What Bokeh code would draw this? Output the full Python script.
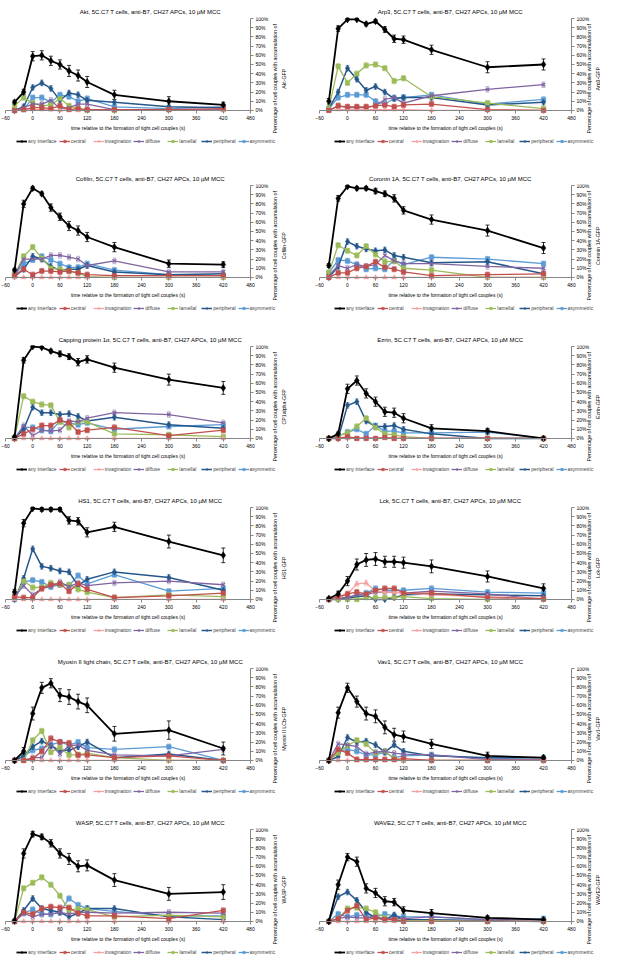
import math
from bokeh.plotting import figure
from bokeh.models import (ColumnDataSource, Whisker, TeeHead, Legend, LegendItem,
                          FixedTicker, PrintfTickFormatter, Range1d, Spacer)
from bokeh.core.properties import value
from bokeh.layouts import column, row
from bokeh.embed import file_html
from bokeh.resources import INLINE

# ---------------- data ----------------
TIME = [-40, -20, 0, 20, 40, 60, 80, 100, 120, 180, 300, 420]
XTICKS = [-60, 0, 60, 120, 180, 240, 300, 360, 420, 480]
YTICKS = [0, 10, 20, 30, 40, 50, 60, 70, 80, 90, 100]
SERIES = ["any interface", "central", "invagination", "diffuse", "lamellal", "peripheral", "asymmetric"]

# order of rows in each protein table: any, central, invagination, diffuse, lamellal, peripheral, asymmetric
AKT = [
    [9, 20, 59, 60, 54, 50, 43, 38, 31, 17, 10, 6],
    [0, 1, 3, 3, 2, 5, 1, 2, 1, 1, 1, 2],
    [0, 0, 1, 1, 1, 0, 1, 0, 0, 0, 0, 0],
    [0, 3, 7, 7, 11, 2, 3, 7, 7, 1, 1, 1],
    [5, 14, 8, 5, 6, 13, 5, 2, 0, 0, 1, 1],
    [0, 4, 25, 30, 24, 11, 19, 17, 11, 9, 4, 3],
    [0, 1, 14, 14, 9, 17, 15, 10, 13, 4, 2, 4],
]
AKT_ERR = [2, 3, 5, 5, 5, 5, 6, 6, 6, 5, 5, 3]

ARP3 = [
    [10, 89, 99, 99, 94, 97, 88, 78, 77, 66, 47, 50],
    [0, 5, 4, 4, 4, 5, 6, 4, 6, 7, 1, 0],
    [0, 1, 1, 1, 1, 1, 1, 1, 1, 0, 0, 0],
    [0, 5, 3, 3, 3, 5, 12, 14, 8, 16, 23, 28],
    [2, 48, 30, 40, 49, 50, 46, 32, 35, 15, 8, 2],
    [2, 20, 46, 34, 22, 26, 20, 13, 14, 14, 6, 9],
    [2, 14, 17, 17, 17, 10, 7, 13, 14, 17, 7, 12],
]
ARP3_ERR = [3, 3, 1, 1, 2, 2, 3, 4, 4, 5, 6, 6]

COFILIN = [
    [8, 80, 97, 91, 76, 66, 56, 51, 44, 33, 15, 14],
    [2, 9, 3, 7, 7, 6, 7, 5, 3, 2, 2, 2],
    [0, 0, 0, 0, 0, 0, 0, 0, 0, 0, 0, 0],
    [2, 20, 20, 20, 24, 24, 22, 20, 13, 18, 6, 6],
    [3, 23, 33, 21, 10, 9, 7, 5, 1, 0, 0, 0],
    [1, 9, 23, 20, 12, 8, 9, 9, 13, 6, 3, 4],
    [2, 15, 19, 23, 19, 15, 11, 11, 15, 8, 3, 2],
]
COFILIN_ERR = [2, 4, 2, 2, 4, 4, 5, 5, 5, 5, 4, 3]

CORONIN = [
    [13, 86, 99, 97, 97, 94, 91, 86, 73, 63, 51, 32],
    [0, 5, 5, 10, 12, 17, 11, 9, 6, 2, 3, 4],
    [0, 0, 0, 0, 0, 0, 0, 0, 0, 0, 0, 0],
    [2, 13, 10, 14, 12, 14, 24, 18, 15, 15, 12, 10],
    [5, 35, 29, 24, 34, 25, 17, 18, 10, 8, 0, 0],
    [0, 12, 39, 34, 31, 29, 30, 24, 22, 16, 17, 4],
    [5, 19, 18, 14, 9, 10, 9, 19, 14, 22, 20, 15],
]
CORONIN_ERR = [2, 3, 1, 2, 2, 3, 3, 4, 4, 5, 6, 6]

CAPPING = [
    [2, 85, 100, 99, 95, 92, 89, 83, 86, 77, 64, 55],
    [0, 5, 10, 14, 14, 20, 17, 7, 9, 12, 3, 9],
    [0, 0, 0, 0, 0, 0, 0, 0, 0, 0, 0, 0],
    [0, 14, 3, 9, 8, 9, 19, 18, 22, 28, 26, 17],
    [0, 46, 40, 37, 36, 18, 12, 18, 18, 5, 4, 2],
    [0, 10, 34, 28, 28, 26, 27, 24, 19, 23, 15, 11],
    [0, 12, 12, 9, 8, 19, 17, 15, 17, 10, 13, 15],
]
CAPPING_ERR = [1, 3, 1, 1, 2, 3, 3, 4, 4, 5, 6, 7]

EZRIN = [
    [0, 5, 54, 63, 49, 40, 29, 28, 22, 11, 8, 0],
    [0, 0, 2, 0, 0, 0, 1, 0, 0, 0, 0, 0],
    [0, 0, 0, 0, 0, 0, 1, 0, 0, 0, 0, 0],
    [0, 0, 1, 0, 1, 0, 1, 0, 0, 0, 0, 0],
    [0, 3, 6, 13, 22, 12, 5, 4, 2, 0, 0, 0],
    [0, 0, 36, 40, 19, 13, 13, 14, 10, 5, 0, 0],
    [0, 2, 7, 10, 5, 14, 8, 8, 6, 6, 7, 0],
]
EZRIN_ERR = [0, 2, 5, 5, 5, 5, 5, 5, 5, 4, 3, 0]

HS1 = [
    [8, 83, 99, 98, 98, 98, 86, 85, 73, 79, 63, 48],
    [3, 2, 2, 12, 16, 17, 9, 17, 11, 2, 4, 7],
    [0, 0, 0, 0, 0, 0, 0, 0, 0, 0, 0, 0],
    [3, 15, 5, 12, 14, 19, 14, 18, 15, 18, 20, 16],
    [2, 20, 13, 13, 18, 16, 16, 11, 8, 2, 5, 3],
    [0, 23, 55, 36, 34, 31, 30, 15, 22, 30, 24, 10],
    [0, 19, 21, 19, 14, 16, 15, 26, 17, 27, 9, 12],
]
HS1_ERR = [3, 4, 1, 2, 2, 2, 4, 4, 5, 5, 7, 8]

LCK = [
    [1, 6, 20, 38, 43, 44, 41, 41, 40, 36, 25, 12],
    [0, 3, 6, 8, 6, 10, 12, 12, 7, 7, 2, 1],
    [0, 1, 6, 17, 18, 9, 8, 8, 7, 5, 3, 1],
    [0, 2, 2, 5, 5, 8, 8, 8, 7, 9, 6, 0],
    [0, 0, 0, 0, 2, 2, 2, 2, 3, 1, 0, 0],
    [0, 0, 1, 3, 4, 0, 0, 2, 5, 6, 5, 4],
    [0, 1, 2, 5, 7, 12, 10, 10, 10, 12, 8, 7],
]
LCK_ERR = [1, 3, 5, 6, 7, 7, 6, 6, 6, 7, 6, 5]

MYOSIN = [
    [0, 10, 51, 79, 84, 71, 69, 64, 60, 29, 33, 13],
    [0, 0, 2, 10, 24, 20, 19, 6, 6, 3, 5, 0],
    [0, 0, 0, 0, 0, 0, 0, 0, 0, 0, 0, 0],
    [0, 0, 3, 3, 17, 7, 16, 17, 11, 6, 5, 12],
    [0, 0, 22, 32, 9, 14, 6, 6, 8, 3, 0, 0],
    [0, 5, 15, 21, 16, 11, 11, 15, 20, 3, 7, 0],
    [0, 5, 11, 13, 17, 20, 17, 20, 14, 12, 15, 0],
]
MYOSIN_ERR = [0, 4, 7, 6, 5, 7, 8, 8, 8, 8, 10, 7]

VAV1 = [
    [0, 52, 79, 64, 51, 48, 36, 28, 26, 18, 5, 3],
    [0, 12, 8, 1, 1, 1, 1, 1, 2, 0, 0, 0],
    [0, 0, 0, 0, 0, 0, 0, 0, 0, 0, 0, 0],
    [0, 18, 17, 15, 7, 9, 10, 8, 7, 6, 1, 1],
    [0, 8, 16, 22, 18, 8, 10, 2, 0, 0, 0, 0],
    [0, 4, 25, 20, 21, 17, 9, 17, 10, 5, 3, 3],
    [0, 10, 12, 10, 6, 6, 9, 3, 5, 6, 2, 1],
]
VAV1_ERR = [0, 6, 5, 6, 7, 7, 7, 7, 6, 5, 4, 2]

WASP = [
    [1, 74, 95, 92, 85, 74, 68, 60, 61, 45, 30, 32],
    [0, 10, 8, 14, 16, 15, 15, 9, 6, 6, 3, 12],
    [0, 0, 0, 0, 0, 0, 0, 0, 0, 0, 0, 0],
    [0, 9, 5, 8, 8, 10, 8, 10, 10, 9, 10, 9],
    [0, 36, 42, 48, 40, 28, 12, 14, 13, 5, 7, 5],
    [0, 12, 25, 14, 12, 10, 5, 9, 14, 14, 5, 2],
    [0, 9, 13, 8, 8, 10, 25, 18, 14, 11, 6, 6],
]
WASP_ERR = [1, 5, 3, 3, 4, 5, 6, 6, 6, 7, 7, 8]

WAVE2 = [
    [0, 40, 70, 65, 36, 31, 22, 21, 12, 9, 4, 2],
    [0, 3, 12, 17, 2, 4, 2, 2, 0, 0, 0, 0],
    [0, 0, 0, 0, 0, 0, 0, 0, 0, 0, 0, 0],
    [0, 3, 5, 4, 4, 5, 3, 3, 3, 5, 2, 2],
    [0, 3, 14, 15, 14, 10, 4, 2, 1, 1, 0, 0],
    [0, 27, 32, 23, 10, 4, 2, 7, 2, 2, 1, 0],
    [0, 8, 5, 7, 6, 5, 8, 6, 5, 5, 2, 3],
]
WAVE2_ERR = [0, 5, 4, 5, 5, 5, 5, 4, 4, 4, 2, 1]

COLOR_ERR = 3  # approximate error bar (%) of the localisation categories

PROTEINS = ["Akt", "Arp3", "Cofilin", "Coronin 1A", "Capping protein 1\u03b1", "Ezrin",
            "HS1", "Lck", "Myosin II light chain", "Vav1", "WASP", "WAVE2"]
REPORTERS = ["Akt-GFP", "Arp3-GFP", "Cofilin-GFP", "Coronin 1A-GFP", "CP1alpha-GFP", "Ezrin-GFP",
             "HS1-GFP", "Lck-GFP", "Myosin II LCb-GFP", "Vav1-GFP", "WASP-GFP", "WAVE2-GFP"]
TABLES = [AKT, ARP3, COFILIN, CORONIN, CAPPING, EZRIN, HS1, LCK, MYOSIN, VAV1, WASP, WAVE2]
ERRORS = [AKT_ERR, ARP3_ERR, COFILIN_ERR, CORONIN_ERR, CAPPING_ERR, EZRIN_ERR,
          HS1_ERR, LCK_ERR, MYOSIN_ERR, VAV1_ERR, WASP_ERR, WAVE2_ERR]
YLABEL_TEXT = "Percentage of cell couples with accumulation of"
XLABEL_TEXT = "time relative to the formation of tight cell couples (s)"

# ---------------- style / layout ----------------
FONT = "Liberation Sans"
COLORS = ["#000000", "#C0504D", "#F2A3A1", "#8064A2", "#9BBB59", "#25578A", "#5B9BD5"]
MARKERS = ["diamond", "square", "triangle", "x", "square", "diamond", "square"]
MSIZE = [7, 4.5, 5, 5, 4.5, 6.5, 4.5]
LWIDTH = [1.8, 1.3, 1.3, 1.3, 1.3, 1.5, 1.3]
AXIS_GRAY = "#868686"
W, H = 300, 159
TOP = 17            # requested title band (px)
FW, FH = 300, 139   # frame size observed with these borders
FT = 10             # observed frame top (px from figure top)
Y100_REL = 11       # px from figure top to the 100 % tick
PX_PER_100 = 90     # px between 0 % and 100 %


def make_panel(idx, x0_px, span_px, ylab_px, legend_px):
    name, rep, table, err = PROTEINS[idx], REPORTERS[idx], TABLES[idx], ERRORS[idx]
    kx = (XTICKS[-1] - XTICKS[0]) / span_px
    xs = XTICKS[0] - x0_px * kx
    xe = xs + FW * kx
    ky = (YTICKS[-1] - YTICKS[0]) / PX_PER_100
    ye = YTICKS[-1] + (Y100_REL - FT) * ky
    ys = ye - FH * ky

    p = figure(width=W, height=H, output_backend="svg", toolbar_location=None,
               x_range=Range1d(xs, xe), y_range=Range1d(ys, ye),
               y_axis_location="right",
               min_border_left=0, min_border_right=0, min_border_top=TOP, min_border_bottom=0)
    p.title.text = name + ", 5C.C7 T cells, anti-B7, CH27 APCs, 10 \u00b5M MCC"
    p.title.text_font = FONT
    p.title.text_font_size = "6px"
    p.title.text_font_style = "normal"
    p.title.text_color = "#000000"
    p.title.align = "center"
    p.title.standoff = 6
    p.outline_line_color = None
    p.xgrid.visible = False
    p.ygrid.visible = False
    p.background_fill_color = None
    p.border_fill_color = None

    for ax in (p.xaxis[0], p.yaxis[0]):
        ax.axis_line_color = AXIS_GRAY
        ax.major_tick_line_color = AXIS_GRAY
        ax.minor_tick_line_color = None
        ax.major_tick_out = 3
        ax.major_tick_in = 0
        ax.major_label_text_font = FONT
        ax.major_label_text_font_size = "5px"
        ax.major_label_text_color = "#000000"
        ax.axis_label_text_font = FONT
        ax.axis_label_text_font_size = "5px"
        ax.axis_label_text_font_style = "normal"
        ax.axis_label_text_color = "#000000"
    p.xaxis.major_label_standoff = 3
    p.xaxis.axis_label_standoff = 1
    p.yaxis.major_label_standoff = 2
    p.xaxis.ticker = FixedTicker(ticks=XTICKS)
    p.yaxis.ticker = FixedTicker(ticks=YTICKS)
    p.xaxis.bounds = (XTICKS[0], XTICKS[-1])
    p.yaxis.bounds = (YTICKS[0], YTICKS[-1])
    p.xaxis.fixed_location = YTICKS[0]
    p.yaxis.fixed_location = XTICKS[-1]
    p.yaxis.formatter = PrintfTickFormatter(format="%d%%")
    p.xaxis.axis_label = XLABEL_TEXT

    # rotated two-line y title, reading bottom to top
    lx = xs + ylab_px * kx
    ly = ye - (70 - FT) * ky
    p.text(x=[lx], y=[ly], text=[YLABEL_TEXT + "\n" + rep], angle=math.pi / 2,
           text_align="center", text_baseline="middle", text_font=value(FONT),
           text_font_size="5.2px", text_color="#000000", text_line_height=1.35)

    order = [6, 5, 4, 3, 2, 1, 0]  # draw black on top
    rends = {}
    for s in order:
        vals = table[s]
        e = err if s == 0 else [COLOR_ERR if v > 0 else 0 for v in vals]
        src = ColumnDataSource(dict(x=TIME, y=vals,
                                    upper=[v + d for v, d in zip(vals, e)],
                                    lower=[max(v - d, 0) for v, d in zip(vals, e)]))
        col = COLORS[s]
        wh_alpha = 1.0 if s == 0 else 0.55
        wk = Whisker(base="x", upper="upper", lower="lower", source=src, dimension="height",
                     line_color=col, line_alpha=wh_alpha, line_width=0.8,
                     upper_head=TeeHead(size=4, line_color=col, line_alpha=wh_alpha, line_width=0.8),
                     lower_head=TeeHead(size=4, line_color=col, line_alpha=wh_alpha, line_width=0.8))
        p.add_layout(wk)
        ln = p.line("x", "y", source=src, line_color=col, line_width=LWIDTH[s])
        mk = p.scatter("x", "y", source=src, marker=MARKERS[s], size=MSIZE[s],
                       fill_color=col, line_color=col, line_width=1.2 if MARKERS[s] == "x" else 0.5)
        rends[s] = [ln, mk]
    items = [LegendItem(label=SERIES[s], renderers=rends[s]) for s in range(7)]
    leg = Legend(items=items, orientation="horizontal", location=(legend_px, 15),
                 label_text_font=FONT, label_text_font_size="5px",
                 glyph_width=11, glyph_height=6, label_standoff=1, spacing=2,
                 padding=0, margin=0, border_line_color=None, background_fill_alpha=0,
                 label_height=6)
    p.add_layout(leg)
    return p


children = []
for r in range(6):
    left = make_panel(2 * r, 5, 245, 279, 16)
    right = make_panel(2 * r + 1, 19, 252, 293, 34)
    children.append(row(left, right))
    if r == 0:
        children.append(Spacer(width=10, height=4))
layout = column(*children, spacing=2)

open("out.html", "w").write(file_html(layout, INLINE))
